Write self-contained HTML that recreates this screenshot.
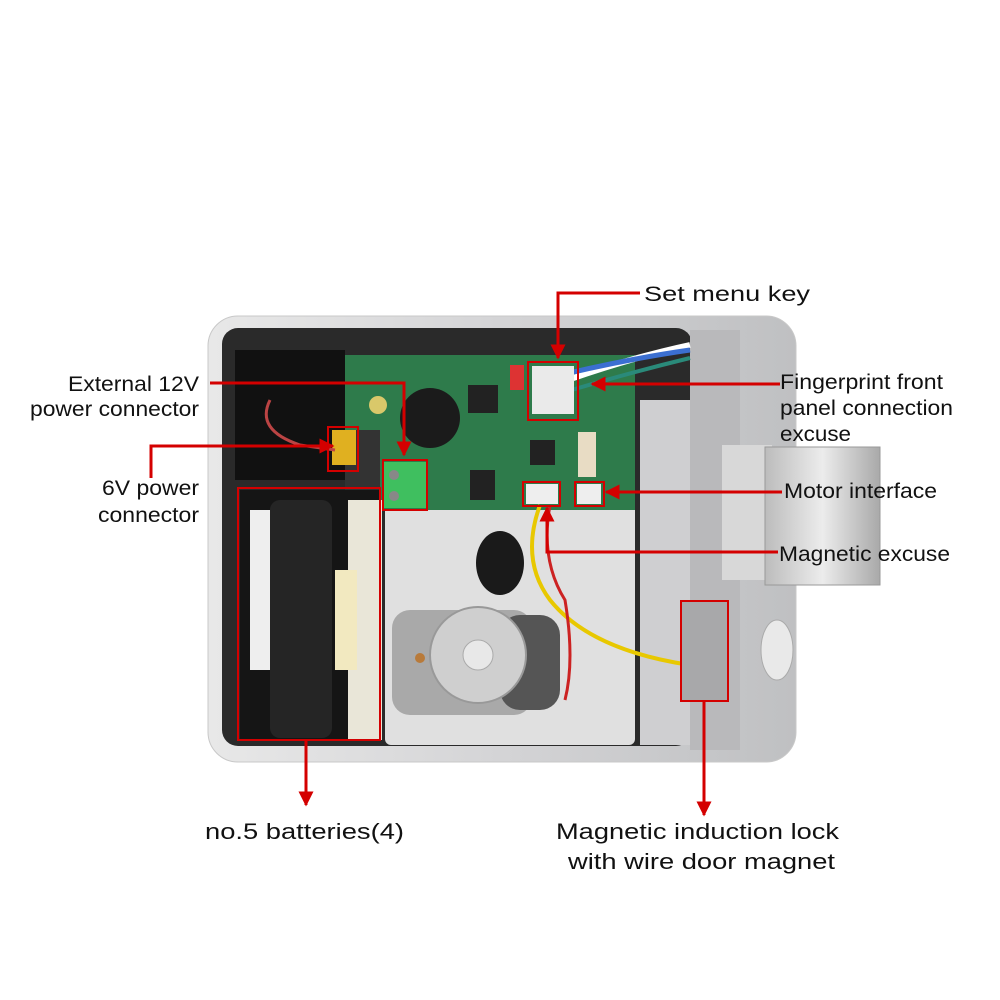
<!DOCTYPE html>
<html><head><meta charset="utf-8"><style>
html,body{margin:0;padding:0;background:#fff;}
svg{display:block;}
text{font-family:"Liberation Sans",sans-serif;fill:#111;}
</style></head><body>
<svg width="1000" height="1000" viewBox="0 0 1000 1000" xmlns="http://www.w3.org/2000/svg">
<defs>
<linearGradient id="steel" x1="0" x2="1"><stop offset="0" stop-color="#e8e8e8"/><stop offset=".5" stop-color="#d4d4d6"/><stop offset="1" stop-color="#bfc0c2"/></linearGradient>
<linearGradient id="bolt" x1="0" x2="1"><stop offset="0" stop-color="#bcbcbc"/><stop offset=".5" stop-color="#ececec"/><stop offset="1" stop-color="#a9a9a9"/></linearGradient>
<marker id="ar" viewBox="0 0 10 10" refX="9" refY="5" markerWidth="5" markerHeight="5" orient="auto"><path d="M0,0L10,5L0,10z" fill="#d40000"/></marker>
</defs>
<rect x="208" y="316" width="588" height="446" rx="30" fill="url(#steel)" stroke="#c8c8c8"/>
<rect x="222" y="328" width="470" height="418" rx="16" fill="#2a2a2a"/>
<rect x="640" y="400" width="100" height="345" fill="#cfcfd1"/>
<rect x="690" y="330" width="50" height="420" fill="#b9b9bb"/>
<rect x="722" y="445" width="50" height="135" fill="#d8d8d8"/>
<rect x="765" y="447" width="115" height="138" fill="url(#bolt)" stroke="#999"/>
<ellipse cx="777" cy="650" rx="16" ry="30" fill="#e9e9e9" stroke="#aaa"/>
<rect x="385" y="500" width="250" height="245" rx="6" fill="#e0e0e0"/>
<rect x="235" y="350" width="110" height="130" fill="#111"/>
<rect x="345" y="355" width="290" height="155" fill="#2e7b4b"/>
<rect x="345" y="430" width="35" height="80" fill="#333"/>
<circle cx="430" cy="418" r="30" fill="#1b1b1b"/>
<rect x="468" y="385" width="30" height="28" fill="#222"/>
<rect x="530" y="440" width="25" height="25" fill="#222"/>
<rect x="470" y="470" width="25" height="30" fill="#222"/>
<rect x="578" y="432" width="18" height="45" fill="#e8dcc4"/>
<circle cx="378" cy="405" r="9" fill="#d9c86a"/>
<path d="M540 390 Q620 360 690 345" stroke="#fff" stroke-width="6" fill="none"/>
<path d="M540 380 Q620 360 690 350" stroke="#3b6fd1" stroke-width="5" fill="none"/>
<path d="M545 398 Q620 375 690 358" stroke="#2a8a7a" stroke-width="4" fill="none"/>
<rect x="532" y="366" width="42" height="48" fill="#eaeaea"/>
<rect x="510" y="365" width="14" height="25" fill="#d33"/>
<rect x="332" y="430" width="24" height="35" fill="#e0b020"/>
<rect x="384" y="462" width="42" height="46" fill="#3fbf5f"/>
<circle cx="394" cy="475" r="5" fill="#888"/><circle cx="394" cy="496" r="5" fill="#888"/>
<rect x="526" y="484" width="32" height="20" fill="#eee"/>
<rect x="577" y="484" width="24" height="20" fill="#eee"/>
<path d="M270 400 Q255 430 300 445 L335 450" stroke="#b44" stroke-width="3" fill="none"/>
<rect x="240" y="490" width="140" height="250" fill="#151515"/>
<rect x="250" y="510" width="22" height="160" fill="#eee"/>
<rect x="348" y="500" width="34" height="240" fill="#e9e6d8"/>
<rect x="335" y="570" width="22" height="100" fill="#f2e9c0"/>
<rect x="270" y="500" width="62" height="238" rx="10" fill="#252525"/>
<ellipse cx="500" cy="563" rx="24" ry="32" fill="#1a1a1a"/>
<rect x="392" y="610" width="140" height="105" rx="18" fill="#a9a9a9"/>
<rect x="500" y="615" width="60" height="95" rx="20" fill="#555"/>
<circle cx="478" cy="655" r="48" fill="#cfcfcf" stroke="#999" stroke-width="2"/>
<circle cx="478" cy="655" r="15" fill="#e8e8e8" stroke="#aaa"/>
<circle cx="420" cy="658" r="5" fill="#b87a3a"/>
<path d="M540 505 Q520 560 550 600 Q590 650 690 665" stroke="#e8c800" stroke-width="4" fill="none"/>
<path d="M550 505 Q540 560 565 600 Q575 660 565 700" stroke="#c22" stroke-width="3" fill="none"/>
<rect x="682" y="600" width="45" height="100" fill="#a8a8aa"/>
<g fill="none" stroke="#d40000" stroke-width="2">
<rect x="528" y="362" width="50" height="58"/>
<rect x="328" y="427" width="30" height="44"/>
<rect x="383" y="460" width="44" height="50"/>
<rect x="523" y="482" width="37" height="24"/>
<rect x="575" y="482" width="29" height="24"/>
<rect x="238" y="488" width="142" height="252"/>
<rect x="681" y="601" width="47" height="100"/>
</g>
<g fill="none" stroke="#d40000" stroke-width="3">
<polyline points="640,293 558,293 558,358" marker-end="url(#ar)"/>
<line x1="780" y1="384" x2="592" y2="384" marker-end="url(#ar)"/>
<polyline points="210,383 404,383 404,455" marker-end="url(#ar)"/>
<polyline points="151,478 151,446 333,446" marker-end="url(#ar)"/>
<line x1="782" y1="492" x2="606" y2="492" marker-end="url(#ar)"/>
<polyline points="778,552 547,552 547,508" marker-end="url(#ar)"/>
<line x1="306" y1="740" x2="306" y2="805" marker-end="url(#ar)"/>
<line x1="704" y1="701" x2="704" y2="815" marker-end="url(#ar)"/>
</g>
<g font-size="21" lengthAdjust="spacingAndGlyphs">
<text x="644" y="301" textLength="166" lengthAdjust="spacingAndGlyphs">Set menu key</text>
<text x="68" y="391" textLength="131" lengthAdjust="spacingAndGlyphs">External 12V</text>
<text x="30" y="416" textLength="169" lengthAdjust="spacingAndGlyphs">power connector</text>
<text x="102" y="495" textLength="97" lengthAdjust="spacingAndGlyphs">6V power</text>
<text x="98" y="522" textLength="101" lengthAdjust="spacingAndGlyphs">connector</text>
<text x="780" y="389" textLength="163" lengthAdjust="spacingAndGlyphs">Fingerprint front</text>
<text x="780" y="415" textLength="173" lengthAdjust="spacingAndGlyphs">panel connection</text>
<text x="780" y="441" textLength="71" lengthAdjust="spacingAndGlyphs">excuse</text>
<text x="784" y="498" textLength="153" lengthAdjust="spacingAndGlyphs">Motor interface</text>
<text x="779" y="561" textLength="171" lengthAdjust="spacingAndGlyphs">Magnetic excuse</text>
<text x="205" y="839" font-size="22" textLength="199" lengthAdjust="spacingAndGlyphs">no.5 batteries(4)</text>
<text x="556" y="839" font-size="22" textLength="283" lengthAdjust="spacingAndGlyphs">Magnetic induction lock</text>
<text x="568" y="869" font-size="22" textLength="267" lengthAdjust="spacingAndGlyphs">with wire door magnet</text>
</g>
</svg>
</body></html>
